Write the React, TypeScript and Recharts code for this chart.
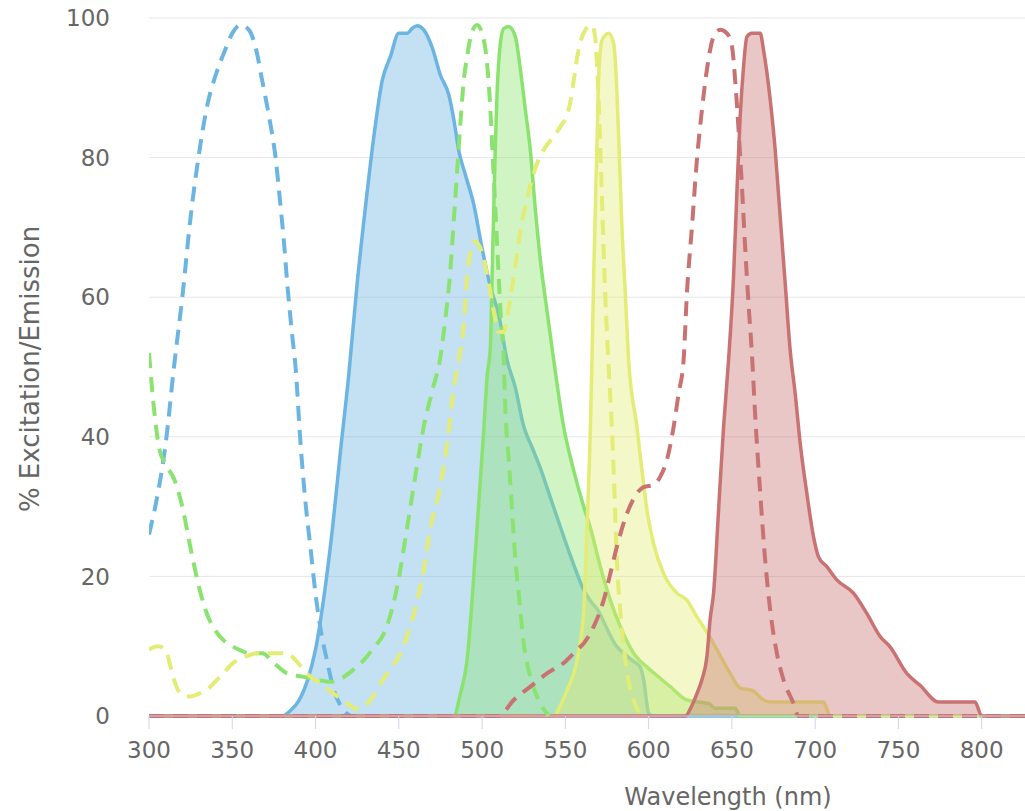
import React from 'react'
import { ComposedChart, Area, Line, XAxis, YAxis, CartesianGrid, Label } from 'recharts'

type Pt = [number, number]

// wavelength (nm) -> % excitation / emission
const xTicks = [300, 350, 400, 450, 500, 550, 600, 650, 700, 750, 800]
const yTicks = [0, 20, 40, 60, 80, 100]

const blueEx: Pt[] = [
  [300, 26], [305, 31.5], [310, 39], [315, 50], [320, 60], [325, 71.5], [330, 80.5], [335, 87.5],
  [340, 91.8], [345, 95], [350, 97.8], [355, 99], [360, 98.3], [364, 95.8], [368, 91],
  [372, 86], [376, 80], [379, 73], [381, 68], [383, 62], [386, 54.5], [388, 50],
  [391, 39], [394, 30.5], [397, 24], [400, 17.5], [403, 12.5], [407, 7.8], [411, 3.7],
  [415, 1.5], [419, 0.3], [421, 0],
]

const blueEm: Pt[] = [
  [300, 0], [380, 0], [385, 0.8], [390, 2.2], [395, 5], [400, 9.5], [405, 17], [410, 26.5],
  [415, 38], [420, 49], [425, 62], [430, 73], [435, 83], [440, 91], [445, 94.5], [450, 97.8],
  [455, 97.8], [458, 98.5], [461, 98.9], [465, 98.3], [470, 95.8], [475, 91.8], [480, 89],
  [483, 85.5], [486, 81], [490, 77.5], [495, 73.3], [500, 67], [505, 61.5], [510, 57.5],
  [515, 51], [520, 47], [525, 41.5], [530, 38.5], [535, 35.5], [540, 32], [545, 28.5], [550, 25],
  [555, 21.7], [560, 18.6], [565, 16.5], [570, 15], [575, 12.5], [581, 9.9], [585, 9], [590, 8],
  [595, 7], [597, 5.2], [600, 0.4], [602, 0], [826, 0],
]

const greenEx: Pt[] = [
  [300, 52], [303, 44], [306, 38.5], [310, 36], [315, 34], [320, 30], [325, 24], [330, 18.5],
  [335, 14.5], [340, 12.2], [345, 10.8], [350, 10], [355, 9.4], [360, 9], [368, 9], [375, 7.6],
  [383, 6.1], [393, 5.6], [401, 5.2], [409, 4.9], [417, 5.6], [423, 6.7], [429, 8], [435, 9.8],
  [441, 11.8], [445, 14.5], [449, 18.5], [455, 27], [460, 34.5], [465, 41.5], [470, 46.5],
  [475, 51.5], [478, 57], [481, 64], [483, 71], [485, 78], [487, 85], [489, 91], [491, 94.5],
  [494, 98], [497, 99], [500, 97.8], [503, 93.5], [505, 86.8], [506, 82], [507, 77.3],
  [508, 72.5], [509, 67.7], [510, 62.9], [511, 58.2], [513, 51], [514, 43.8], [516, 36.7],
  [518, 29.5], [520, 22.3], [522, 17.6], [525, 10.4], [529, 5.6], [535, 1.8], [540, 0],
]

const greenEm: Pt[] = [
  [300, 0], [483, 0], [487, 3.2], [491, 8], [495, 20], [497, 27], [501, 41], [503, 48.6],
  [505, 53], [506, 62.9], [507, 72.5], [508, 82], [509, 89.2], [511, 96.4], [513, 98.5],
  [516, 98.8], [520, 97.3], [523, 92.6], [526, 86.8], [529, 81], [532, 72.5], [535, 65.3],
  [539, 58], [543, 51], [549, 41.4], [555, 35.2], [561, 30], [565, 27], [571, 21.4],
  [577, 16.6], [583, 12.8], [591, 9], [599, 7], [605, 5.8], [613, 4.2], [623, 2.3], [630, 2],
  [636, 1.8], [640, 1.1], [652, 1.1], [655, 0], [826, 0],
]

const yellowEx: Pt[] = [
  [300, 9.5], [305, 10], [310, 9.5], [313, 7], [316, 4.5], [320, 3], [325, 2.8], [330, 3.2],
  [335, 3.8], [340, 5], [345, 6.2], [350, 7.5], [355, 8.2], [360, 8.7], [365, 9], [383, 9],
  [388, 8], [395, 6], [403, 4.7], [411, 3.2], [419, 1.8], [425, 1], [430, 1.5], [435, 3],
  [440, 5], [445, 6.8], [450, 8.5], [455, 11.5], [460, 15.5], [465, 21], [469, 27], [475, 33],
  [479, 39], [483, 47], [486, 51], [489, 56], [491, 63], [493, 66.5], [495, 68], [498, 67.5],
  [501, 65.5], [504, 62], [507, 58], [510, 55], [513, 55], [516, 58.5], [520, 64.5], [523, 69.5],
  [527, 74], [532, 78.5], [538, 81.5], [543, 83], [548, 84.8], [551, 86], [553, 88], [555, 91],
  [558, 95.5], [562, 98.3], [566, 99], [568, 97], [570, 88], [572, 74], [574, 60], [576, 50],
  [578, 41], [579.5, 32], [581, 22], [583, 15], [586, 8], [591, 2.3], [595, 0.4], [598, 0],
]

const yellowEm: Pt[] = [
  [300, 0], [543, 0], [547, 1.5], [551, 3.7], [557, 8], [561, 15], [563, 27], [565, 41],
  [566, 51], [567, 63], [568, 72.5], [569, 82], [570, 91.5], [572, 96.8], [576, 97.8],
  [579, 96.4], [581, 89.2], [582.5, 79.7], [584, 70], [586, 60.6], [588, 51], [593, 41.4],
  [596, 35.2], [599, 29.5], [603, 24.7], [609, 20.4], [617, 17.6], [623, 16.6], [629, 14.2],
  [635, 12], [641, 9.5], [649, 6.1], [655, 4], [662, 3.7], [669, 2.3], [673, 2], [705, 2],
  [709, 0], [826, 0],
]

const redEx: Pt[] = [
  [300, 0], [510, 0], [519, 2.3], [529, 4.2], [539, 6.1], [549, 7.6], [557, 9.5], [561, 10.4],
  [567, 12.8], [573, 16.6], [577, 20.4], [581, 24.3], [587, 29], [593, 31.9], [597, 32.8],
  [603, 33.1], [607, 34.3], [611, 36.7], [615, 41.4], [618, 46.2], [621, 51], [623, 60.6],
  [626, 70], [629, 79.7], [632, 86.8], [635, 92.6], [639, 97.3], [643, 98.3], [647, 97.8],
  [650, 96], [652, 91], [654, 84], [656, 76], [658, 67], [660, 59], [662, 52], [664, 43],
  [667, 32], [670, 22.3], [673, 15.2], [677, 9], [681, 5.2], [687, 1.8], [690, 0], [826, 0],
]

const redEm: Pt[] = [
  [300, 0], [622, 0], [626, 1.5], [629, 3.2], [632, 5.2], [635, 8.5], [637, 14], [639, 17.6],
  [642, 29.5], [645, 41.4], [648, 51], [651, 63], [653, 75], [655, 86], [657, 93], [659, 97.3],
  [662, 97.8], [667, 97.8], [669, 95.4], [673, 88.3], [676, 81.1], [679, 71.5], [682, 62],
  [685, 52.4], [688, 46.2], [691, 39.1], [695, 31.9], [699, 25.7], [702, 22.8], [707, 21.4],
  [713, 19.5], [723, 17.6], [731, 14.7], [739, 11.4], [745, 9.9], [755, 6.1], [763, 4.4],
  [774, 2], [796, 2], [800, 0], [826, 0],
]

const series = [
  { key: 'blueEx', points: blueEx, color: '#6cb5e3', filled: false },
  { key: 'blueEm', points: blueEm, color: '#6cb5e3', filled: true },
  { key: 'greenEx', points: greenEx, color: '#8be36f', filled: false },
  { key: 'greenEm', points: greenEm, color: '#8be36f', filled: true },
  { key: 'yellowEx', points: yellowEx, color: '#e3ec74', filled: false },
  { key: 'yellowEm', points: yellowEm, color: '#e3ec74', filled: true },
  { key: 'redEx', points: redEx, color: '#c97272', filled: false },
  { key: 'redEm', points: redEm, color: '#c97272', filled: true },
]

// one row per wavelength that any series uses; missing values are skipped with connectNulls
const allWl = Array.from(new Set(series.flatMap((s) => s.points.map((p) => p[0])))).sort((a, b) => a - b)
const table = allWl.map((wl) => {
  const row: Record<string, number> = { wl }
  for (const s of series) {
    const hit = s.points.find((p) => p[0] === wl)
    if (hit) row[s.key] = hit[1]
  }
  return row
})

const tickFont = { fill: '#666', fontSize: 23, fontFamily: 'DejaVu Sans' }

export default function App() {
  return (
    <div style={{ width: 1025, height: 811 }}>
      <style>{'body{margin:0}'}</style>
      <ComposedChart width={1025} height={811} data={table} margin={{ top: 18, right: 0, bottom: 0, left: 0 }}>
        <CartesianGrid vertical={false} stroke="#e6e6e6" />
        <XAxis
          dataKey="wl"
          type="number"
          domain={[300, 826]}
          ticks={xTicks}
          interval={0}
          allowDataOverflow
          height={95}
          tickSize={13}
          tickMargin={13}
          axisLine={{ stroke: '#ccd6eb' }}
          tickLine={{ stroke: '#ccd6eb' }}
          tick={tickFont}
        >
          <Label
            content={() => (
              <text x={728} y={797} textAnchor="middle" dominantBaseline="central" fill="#666" fontSize={24} fontFamily="DejaVu Sans">
                Wavelength (nm)
              </text>
            )}
          />
        </XAxis>
        <YAxis
          type="number"
          domain={[0, 100]}
          ticks={yTicks}
          interval={0}
          width={149}
          axisLine={false}
          tickLine={false}
          tickSize={6}
          tickMargin={33}
          tick={tickFont}
        >
          <Label
            content={() => (
              <text
                x={30}
                y={369}
                transform="rotate(-90 30 369)"
                textAnchor="middle"
                dominantBaseline="central"
                fill="#666"
                fontSize={26}
                fontFamily="DejaVu Sans"
              >
                % Excitation/Emission
              </text>
            )}
          />
        </YAxis>
        {series.map((s) =>
          s.filled ? (
            <Area
              key={s.key}
              type="monotone"
              dataKey={s.key}
              stroke={s.color}
              strokeWidth={3.5}
              fill={s.color}
              fillOpacity={0.4}
              dot={false}
              activeDot={false}
              connectNulls
              isAnimationActive={false}
            />
          ) : (
            <Line
              key={s.key}
              type="monotone"
              dataKey={s.key}
              stroke={s.color}
              strokeWidth={4}
              strokeDasharray="15 9"
              dot={false}
              activeDot={false}
              connectNulls
              isAnimationActive={false}
            />
          )
        )}
      </ComposedChart>
    </div>
  )
}
